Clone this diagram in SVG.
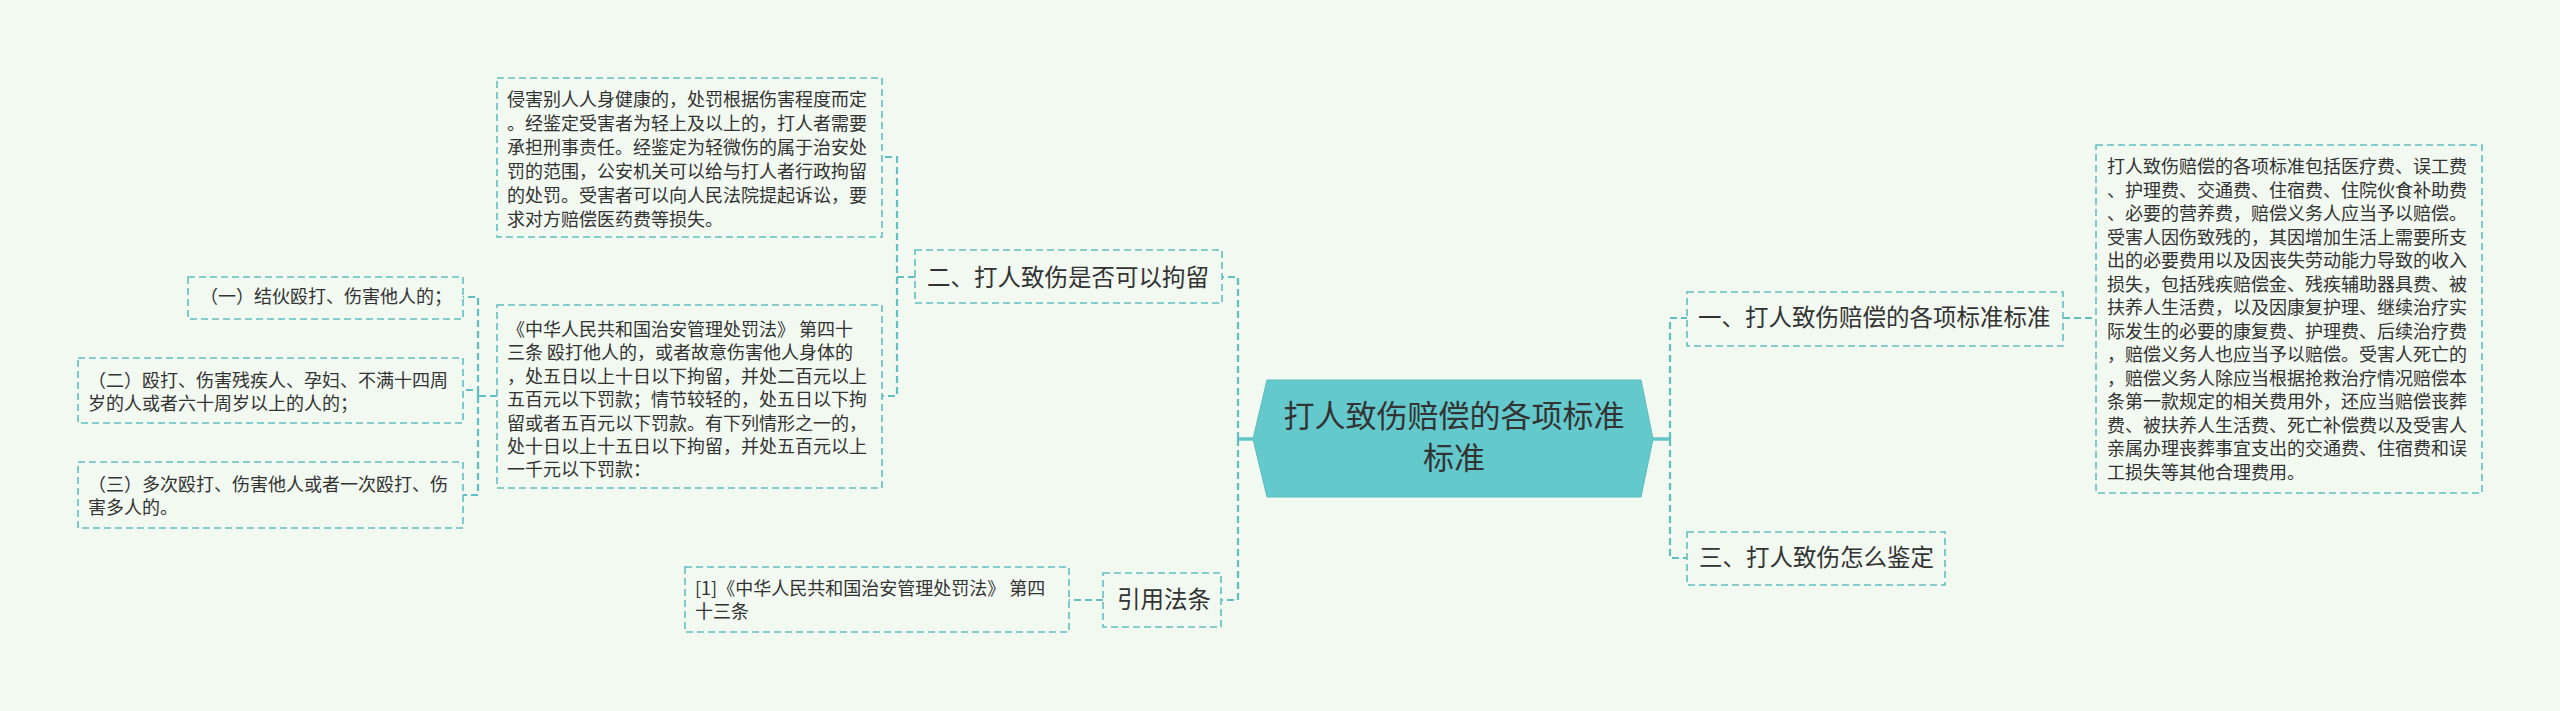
<svg xmlns="http://www.w3.org/2000/svg" width="2560" height="711" viewBox="0 0 2560 711">
<style>
.bg{fill:#f1f9f0}
.box{fill:none;stroke:#62bfc1;stroke-width:1.6;stroke-dasharray:7 4}
.link{fill:none;stroke:#62bfc1;stroke-width:2.2;stroke-dasharray:7 4}
.stub{fill:none;stroke:#62c4c6;stroke-width:3.5}
text{font-family:"Noto Sans CJK SC","Noto Sans",sans-serif;fill:#333}
.leaf{font-size:18px}
.l1{font-size:23.5px}
.root{font-size:31px;text-anchor:middle}
</style>
<rect class="bg" x="0" y="0" width="2560" height="711"/>
<g id="connectors">
<path class="stub" d="M1253,439 H1238"/>
<path class="stub" d="M1653,439 H1670"/>
<path class="link" d="M1238,439 V277 H1222"/>
<path class="link" d="M1238,439 V600 H1221"/>
<path class="link" d="M1670,439 V318 H1687"/>
<path class="link" d="M1670,439 V558 H1687"/>
<path class="link" d="M2063,318 H2096"/>
<path class="link" d="M915,277 H897 V157 H882"/>
<path class="link" d="M897,277 V396 H882"/>
<path class="link" d="M497,396 H478 V297 H463"/>
<path class="link" d="M478,396 V390 H463"/>
<path class="link" d="M478,396 V495 H463"/>
<path class="link" d="M1103,600 H1069"/>
</g>
<g id="root">
<polygon points="1267,380 1641,380 1653,439 1641,497 1267,497 1253,439" fill="#63c9cc" stroke="#5bbcbe" stroke-width="1"/>
<text class="root" x="1454" y="427">打人致伤赔偿的各项标准</text>
<text class="root" x="1454" y="469">标准</text>
</g>
<g id="n-yi">
<rect class="box" x="1687" y="292" width="376" height="54"/>
<text class="l1" x="1698" y="326">一、打人致伤赔偿的各项标准标准</text>
</g>
<g id="n-yi-leaf">
<rect class="box" x="2096" y="145" width="386" height="348"/>
<text class="leaf" x="2107" y="173">打人致伤赔偿的各项标准包括医疗费、误工费</text>
<text class="leaf" x="2107" y="196.5">、护理费、交通费、住宿费、住院伙食补助费</text>
<text class="leaf" x="2107" y="220">、必要的营养费，赔偿义务人应当予以赔偿。</text>
<text class="leaf" x="2107" y="243.5">受害人因伤致残的，其因增加生活上需要所支</text>
<text class="leaf" x="2107" y="267">出的必要费用以及因丧失劳动能力导致的收入</text>
<text class="leaf" x="2107" y="290.5">损失，包括残疾赔偿金、残疾辅助器具费、被</text>
<text class="leaf" x="2107" y="314">扶养人生活费，以及因康复护理、继续治疗实</text>
<text class="leaf" x="2107" y="337.5">际发生的必要的康复费、护理费、后续治疗费</text>
<text class="leaf" x="2107" y="361">，赔偿义务人也应当予以赔偿。受害人死亡的</text>
<text class="leaf" x="2107" y="384.5">，赔偿义务人除应当根据抢救治疗情况赔偿本</text>
<text class="leaf" x="2107" y="408">条第一款规定的相关费用外，还应当赔偿丧葬</text>
<text class="leaf" x="2107" y="431.5">费、被扶养人生活费、死亡补偿费以及受害人</text>
<text class="leaf" x="2107" y="455">亲属办理丧葬事宜支出的交通费、住宿费和误</text>
<text class="leaf" x="2107" y="478.5">工损失等其他合理费用。</text>
</g>
<g id="n-san">
<rect class="box" x="1687" y="532" width="258" height="53"/>
<text class="l1" x="1699" y="566">三、打人致伤怎么鉴定</text>
</g>
<g id="n-er">
<rect class="box" x="915" y="250" width="307" height="53"/>
<text class="l1" x="927" y="286">二、打人致伤是否可以拘留</text>
</g>
<g id="n-er-leaf1">
<rect class="box" x="497" y="78" width="385" height="159"/>
<text class="leaf" x="507" y="106">侵害别人人身健康的，处罚根据伤害程度而定</text>
<text class="leaf" x="507" y="130">。经鉴定受害者为轻上及以上的，打人者需要</text>
<text class="leaf" x="507" y="154">承担刑事责任。经鉴定为轻微伤的属于治安处</text>
<text class="leaf" x="507" y="178">罚的范围，公安机关可以给与打人者行政拘留</text>
<text class="leaf" x="507" y="202">的处罚。受害者可以向人民法院提起诉讼，要</text>
<text class="leaf" x="507" y="226">求对方赔偿医药费等损失。</text>
</g>
<g id="n-er-law">
<rect class="box" x="497" y="305" width="385" height="183"/>
<text class="leaf" x="507" y="336">《中华人民共和国治安管理处罚法》 第四十</text>
<text class="leaf" x="507" y="359.4">三条 殴打他人的，或者故意伤害他人身体的</text>
<text class="leaf" x="507" y="382.8">，处五日以上十日以下拘留，并处二百元以上</text>
<text class="leaf" x="507" y="406.2">五百元以下罚款；情节较轻的，处五日以下拘</text>
<text class="leaf" x="507" y="429.6">留或者五百元以下罚款。有下列情形之一的，</text>
<text class="leaf" x="507" y="453">处十日以上十五日以下拘留，并处五百元以上</text>
<text class="leaf" x="507" y="476.4">一千元以下罚款：</text>
</g>
<g id="n-law-1">
<rect class="box" x="188" y="277" width="275" height="42"/>
<text class="leaf" x="200" y="303">（一）结伙殴打、伤害他人的；</text>
</g>
<g id="n-law-2">
<rect class="box" x="78" y="358" width="385" height="65"/>
<text class="leaf" x="88" y="387">（二）殴打、伤害残疾人、孕妇、不满十四周</text>
<text class="leaf" x="88" y="410">岁的人或者六十周岁以上的人的；</text>
</g>
<g id="n-law-3">
<rect class="box" x="78" y="462" width="385" height="66"/>
<text class="leaf" x="88" y="491">（三）多次殴打、伤害他人或者一次殴打、伤</text>
<text class="leaf" x="88" y="514">害多人的。</text>
</g>
<g id="n-cite">
<rect class="box" x="1103" y="573" width="118" height="54"/>
<text class="l1" x="1117" y="608">引用法条</text>
</g>
<g id="n-cite-leaf">
<rect class="box" x="685" y="567" width="384" height="65"/>
<text class="leaf" x="695" y="595">[1]《中华人民共和国治安管理处罚法》 第四</text>
<text class="leaf" x="695" y="618">十三条</text>
</g>
</svg>
